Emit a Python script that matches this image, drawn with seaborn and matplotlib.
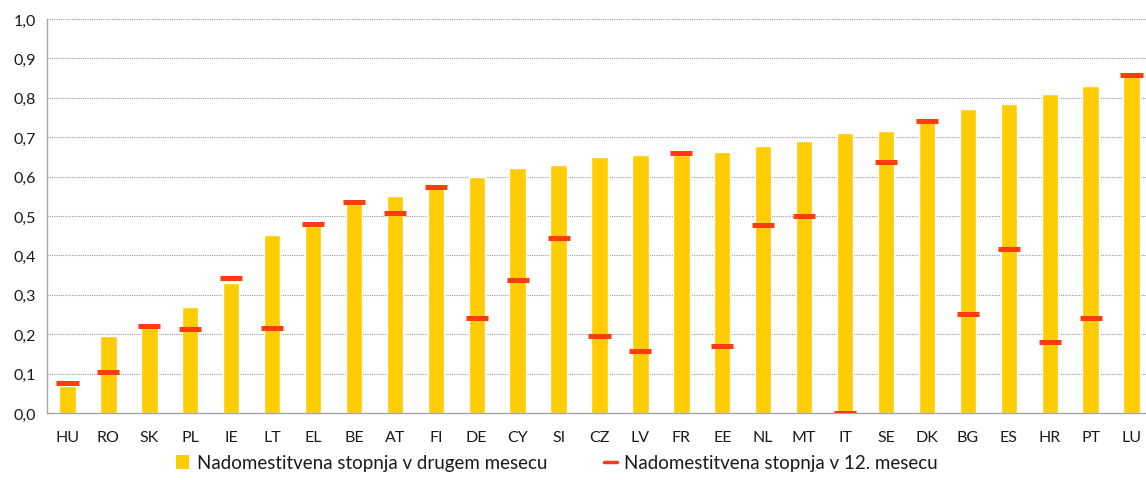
import numpy as np
import pandas as pd
import matplotlib
matplotlib.use('Agg')
import matplotlib.pyplot as plt
import seaborn as sns
from matplotlib.patches import Patch
from matplotlib.lines import Line2D
from matplotlib.ticker import FuncFormatter

# Data
countries = ['HU', 'RO', 'SK', 'PL', 'IE', 'LT', 'EL', 'BE', 'AT', 'FI', 'DE', 'CY', 'SI',
             'CZ', 'LV', 'FR', 'EE', 'NL', 'MT', 'IT', 'SE', 'DK', 'BG', 'ES', 'HR', 'PT', 'LU']
rate_month2 = [0.069, 0.195, 0.215, 0.270, 0.330, 0.452, 0.475, 0.530, 0.552, 0.570, 0.598,
               0.622, 0.630, 0.650, 0.656, 0.655, 0.662, 0.677, 0.690, 0.710, 0.717, 0.740,
               0.772, 0.785, 0.810, 0.830, 0.855]
rate_month12 = [0.075, 0.105, 0.220, 0.213, 0.342, 0.217, 0.480, 0.535, 0.508, 0.573, 0.240,
                0.337, 0.445, 0.195, 0.158, 0.660, 0.170, 0.477, 0.500, 0.000, 0.637, 0.742,
                0.252, 0.417, 0.180, 0.240, 0.858]

label_bar = 'Nadomestitvena stopnja v drugem mesecu'
label_line = 'Nadomestitvena stopnja v 12. mesecu'

yellow = '#FFCC00'
red = '#FF3B0F'
grey = '#A6A6A6'

sns.set_style('white')
plt.rcParams['font.family'] = ['Lato', 'DejaVu Sans']

df = pd.DataFrame({'country': countries, 'm2': rate_month2, 'm12': rate_month12})

W, H = 1146, 481
fig = plt.figure(figsize=(W / 100, H / 100), dpi=100)
# axes runs slightly past the right edge, like the cropped original
ax = fig.add_axes([47 / W, (H - 414) / H, (1152 - 47) / W, (414 - 20) / H])

sns.barplot(data=df, x='country', y='m2', color=yellow, width=0.4,
            saturation=1, ax=ax, zorder=2)

x = np.arange(len(countries))
ax.hlines(df['m12'], x - 0.27, x + 0.27, color=red, lw=3.6, zorder=3,
          capstyle='butt')

ax.set_xlim(-0.5, len(countries) - 0.5)
ax.set_ylim(0, 1.0)
ax.set_yticks(np.arange(0, 1.01, 0.1))
ax.yaxis.set_major_formatter(FuncFormatter(lambda v, p: f'{v:.1f}'.replace('.', ',')))
ax.set_xlabel('')
ax.set_ylabel('')

ax.grid(axis='y', color='#9a9a9a', linestyle=(0, (1, 1)), lw=0.8, zorder=0)
ax.set_axisbelow(True)

for s in ['top', 'right']:
    ax.spines[s].set_visible(False)
for s in ['left', 'bottom']:
    ax.spines[s].set_color(grey)
    ax.spines[s].set_linewidth(1.0)

# x ticks at category boundaries, labels centred
ax.set_xticks(x)
ax.set_xticklabels(countries)
ax.tick_params(axis='x', length=0, pad=12, labelsize=11.5, colors='#1a1a1a')
ax.set_xticks(np.arange(-0.5, len(countries), 1), minor=True)
ax.tick_params(axis='x', which='minor', length=5, color=grey, width=1.0)
ax.tick_params(axis='y', length=5, color=grey, width=1.0, labelsize=11.5,
               colors='#1a1a1a', pad=3)

handles = [Patch(facecolor=yellow, edgecolor='none'),
           Line2D([0], [0], color=red, lw=2.5)]
fig.legend(handles, [label_bar, label_line], loc='center',
           bbox_to_anchor=(557 / W, 1 - 464 / H), ncol=2, frameon=False,
           fontsize=13.5, handlelength=0.7, handleheight=0.7,
           handletextpad=0.4, columnspacing=3.0, labelcolor='#1a1a1a')

fig.savefig('out.png', dpi=100)
